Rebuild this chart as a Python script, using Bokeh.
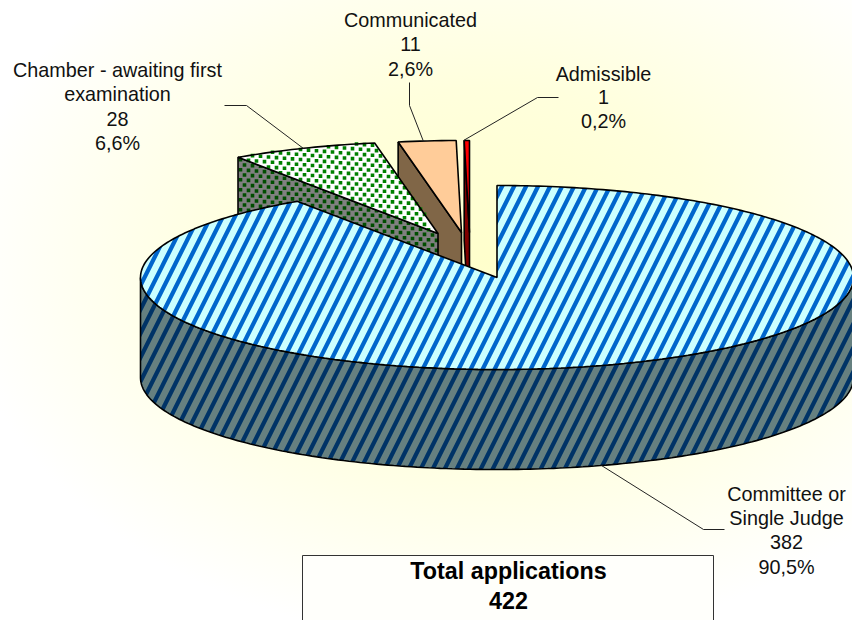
import numpy as np
from bokeh.plotting import figure
from bokeh.embed import file_html
from bokeh.resources import INLINE
from bokeh.core.properties import value

# ---- data
categories = ["Committee or\nSingle Judge", "Chamber - awaiting first\nexamination", "Communicated", "Admissible"]
counts = [382, 28, 11, 1]
percent_labels = ["90,5%", "6,6%", "2,6%", "0,2%"]
total_title = "Total applications"
total_value = 422

# ---- layout
CX, CY, RX, RY, DEPTH = 496.5, 277, 356.5, 92, 100
KEYS = ["Committee", "Chamber", "Communicated", "Admissible"]
explode = {"Committee": (0, 0), "Chamber": (-59, -44), "Communicated": (-35.5, -45), "Admissible": (-27.5, -45)}

p = figure(width=852, height=620, x_range=(0, 852), y_range=(620, 0), output_backend="svg",
           toolbar_location=None, min_border=0)
p.axis.visible = False
p.grid.visible = False
p.outline_line_color = None
p.background_fill_alpha = 0
p.border_fill_alpha = 0
p.styles = {"background": "radial-gradient(ellipse 62% 62% at 57% 42%, #FFFFCC 0%, #FFFFDD 45%, #FFFFFF 100%)"}

vals = np.array(counts, float)
ends = np.cumsum(vals) / vals.sum() * 2 * np.pi
starts = np.concatenate([[0], ends[:-1]])
ang = {k: (starts[i], ends[i]) for i, k in enumerate(KEYS)}


def pt(a, off=(0, 0)):
    return CX + off[0] + RX * np.sin(a), CY + off[1] - RY * np.cos(a)


def arc(a0, a1, off=(0, 0), dz=0):
    t = np.linspace(a0, a1, max(3, int((a1 - a0) * 60)))
    return list(CX + off[0] + RX * np.sin(t)), list(CY + off[1] - RY * np.cos(t) + dz)


def top(key):
    a0, a1 = ang[key]
    off = explode[key]
    xs, ys = arc(a0, a1, off)
    return [CX + off[0]] + xs, [CY + off[1]] + ys


def cut_face(key, a):
    off = explode[key]
    x0, y0 = pt(a, off)
    ax, ay = CX + off[0], CY + off[1]
    return [x0, ax, ax, x0], [y0, ay, ay + DEPTH, y0 + DEPTH]


def inside(px, py, xs, ys):
    xs, ys = np.asarray(xs), np.asarray(ys)
    xj, yj = np.roll(xs, 1), np.roll(ys, 1)
    out = np.zeros(px.shape, bool)
    for a, b, c, d in zip(xs, ys, xj, yj):
        cond = (b > py) != (d > py)
        out ^= cond & (px < (c - a) * (py - b) / (d - b + 1e-12) + a)
    return out


def stipple(xs, ys, color):
    gx, gy = [], []
    for r in range(int(min(ys)) // 5 - 8, int(max(ys)) // 5 + 3):
        row = np.arange(int(min(xs)) // 8 * 8 - 8, int(max(xs)) + 8, 8.0) + (r % 2) * 4
        gx.append(row)
        gy.append(r * 5.0 + row * 0.08)
    gx, gy = np.concatenate(gx), np.concatenate(gy)
    m = inside(gx, gy, xs, ys)
    p.scatter(gx[m], gy[m], marker="square", size=3.6, fill_color=color, line_color=None)


LW = 1.6
edge = dict(line_color="black", line_width=LW)

# Admissible
k = "Admissible"
x, y = cut_face(k, ang[k][0])
p.patch(x, y, fill_color="#800000", **edge)
x, y = top(k)
p.patch(x, y, fill_color="#FF0000", **edge)

# Communicated
k = "Communicated"
x, y = cut_face(k, ang[k][0])
p.patch(x, y, fill_color="#806647", **edge)
x, y = top(k)
p.patch(x, y, fill_color="#FFCC99", **edge)

# Chamber
k = "Chamber"
x, y = cut_face(k, ang[k][0])
p.patch(x, y, fill_color="#808080", line_color=None)
stipple(x, y, "#004D00")
p.patch(x, y, fill_alpha=0, **edge)
x, y = top(k)
p.patch(x, y, fill_color="#FFFFFF", line_color=None)
stipple(x, y, "#008000")
p.patch(x, y, fill_alpha=0, **edge)

# Committee: outer wall then top
k = "Committee"
wx, wy = arc(np.pi / 2, 3 * np.pi / 2)
wbx, wby = arc(np.pi / 2, 3 * np.pi / 2, dz=DEPTH)
p.patch(wx + wbx[::-1], wy + wby[::-1], fill_color="#668080", hatch_pattern="right_diagonal_line",
        hatch_color="#003366", hatch_scale=24, hatch_weight=4.2, **edge)
x, y = top(k)
p.patch(x, y, fill_color="#CCFFFF", hatch_pattern="right_diagonal_line",
        hatch_color="#0066CC", hatch_scale=24, hatch_weight=4.2, **edge)

# Leaders
leader = dict(line_color="#222222", line_width=1)
p.line([224, 246, 303], [105, 105, 148], **leader)
p.line([409, 409, 423], [82, 105, 141], **leader)
p.line([558, 537, 463], [97, 97, 140], **leader)
p.line([601, 703, 724], [465, 529, 529], **leader)

# Labels
FONT = value("Liberation Sans")


def label(cx, ys, lines, size="19.8px", style="normal", color="#111111"):
    p.text([cx] * len(lines), ys, text=lines, text_font=FONT, text_font_size=size, text_align="center",
           text_baseline="middle", text_color=color, text_font_style=style)


label(117, [69, 93, 118, 142], categories[1].split("\n") + [str(counts[1]), percent_labels[1]])
label(410, [19, 43, 68], [categories[2], str(counts[2]), percent_labels[2]])
label(603, [73, 96, 120], [categories[3], str(counts[3]), percent_labels[3]])
label(786, [493, 517, 541, 566], categories[0].split("\n") + [str(counts[0]), percent_labels[0]])

# Total box
p.quad(left=[302], right=[713], top=[555], bottom=[640], fill_color="#FFFFFB", line_color="#333333", line_width=1)
label(508, [570, 600], [total_title, str(total_value)], size="23.3px", style="bold", color="black")

open("out.html", "w").write(file_html(p, INLINE))
